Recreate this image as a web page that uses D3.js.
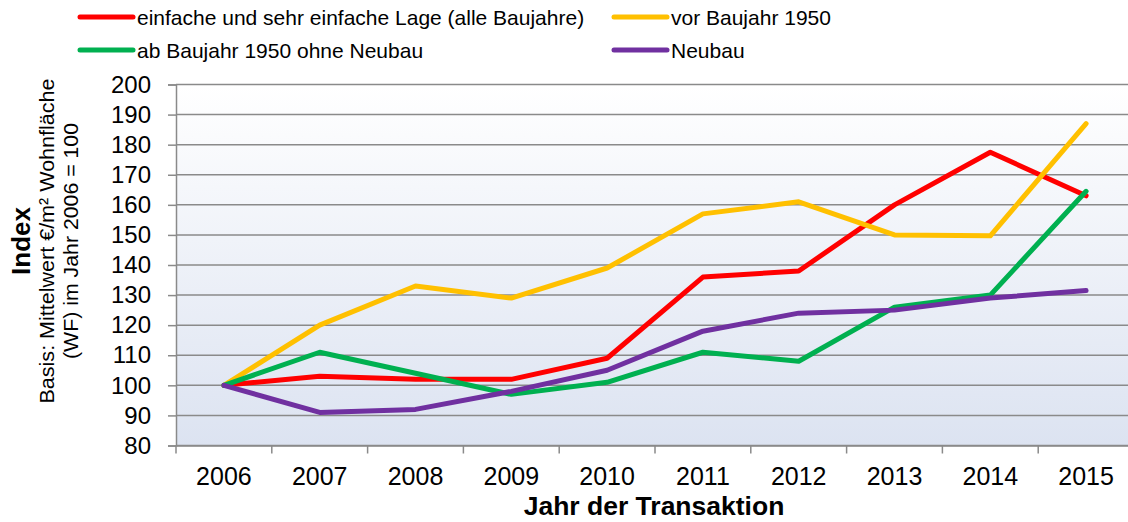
<!DOCTYPE html>
<html><head><meta charset="utf-8">
<script src="https://cdn.jsdelivr.net/npm/d3@7"></script>
<style>body{margin:0;background:#fff}svg{display:block;font-family:"Liberation Sans",Arial,sans-serif}</style>
</head><body><svg id="c" width="1128" height="522"></svg>
<script>
const years = ["2006","2007","2008","2009","2010","2011","2012","2013","2014","2015"];
const seriesNames = ["einfache und sehr einfache Lage (alle Baujahre)","vor Baujahr 1950","ab Baujahr 1950 ohne Neubau","Neubau"];
const einfache = [100,103,102,102,109,136,138,160,177.5,163];
const vor1950 = [100,120,133,129,139,157,161,150,149.7,187];
const ab1950 = [100,111,104,97,101,111,108,126,130,164.5];
const neubau = [100,91,92,98,105,118,124,125,129,131.5];
const yTicks = [80,90,100,110,120,130,140,150,160,170,180,190,200];
const colors = ["#ff0000","#ffc000","#00b050","#7030a0"];
const allSeries = [einfache, vor1950, ab1950, neubau];

const svg = d3.select("#c");
const x0 = 176, x1 = 1134, yTop = 84.5, yBot = 445.5;
const x = d3.scaleBand().domain(years).range([x0, x1]);
const y = d3.scaleLinear().domain([80,200]).range([yBot, yTop]);

const defs = svg.append("defs");
const g = defs.append("linearGradient").attr("id","bg").attr("x1",0).attr("y1",0).attr("x2",0).attr("y2",1);
g.append("stop").attr("offset","0%").attr("stop-color","#ffffff");
g.append("stop").attr("offset","100%").attr("stop-color","#dce3f1");

svg.append("rect").attr("x",x0).attr("y",yTop).attr("width",x1-x0).attr("height",yBot-yTop).attr("fill","url(#bg)");

// gridlines
svg.append("g").selectAll("line").data(yTicks).join("line")
  .attr("x1",x0).attr("x2",x1).attr("y1",d=>y(d)).attr("y2",d=>y(d))
  .attr("stroke","#8a8a8a").attr("stroke-width",1.5);

// y axis
const ya = svg.append("g").attr("transform",`translate(${x0},0)`)
  .call(d3.axisLeft(y).tickValues(yTicks).tickSize(8).tickPadding(17));
ya.select(".domain").attr("stroke","#8a8a8a").attr("stroke-width",1.5);
ya.selectAll(".tick line").attr("stroke","#8a8a8a").attr("stroke-width",1.5);
ya.selectAll("text").attr("font-size",24).attr("fill","#000").attr("font-family","Liberation Sans, Arial, sans-serif");

// x axis
const xa = svg.append("g").attr("transform",`translate(0,${yBot})`)
  .call(d3.axisBottom(x).tickSize(0).tickPadding(22));
xa.select(".domain").attr("stroke","#8a8a8a").attr("stroke-width",1.5);
xa.selectAll("text").attr("font-size",25).attr("fill","#000").attr("font-family","Liberation Sans, Arial, sans-serif");
// tick marks at category boundaries
const bounds = years.map(d=>x(d)).concat([x1]);
svg.append("g").selectAll("line").data(bounds).join("line")
  .attr("x1",d=>d).attr("x2",d=>d).attr("y1",yBot).attr("y2",yBot+8)
  .attr("stroke","#8a8a8a").attr("stroke-width",1.5);

// lines
const line = d3.line().x((d,i)=>x(years[i])+x.bandwidth()/2).y(d=>y(d));
allSeries.forEach((s,k)=>{
  svg.append("path").attr("d",line(s)).attr("fill","none").attr("stroke",colors[k])
    .attr("stroke-width",5).attr("stroke-linejoin","round").attr("stroke-linecap","round");
});

// axis titles
svg.append("text").attr("x",654).attr("y",515).attr("text-anchor","middle")
  .attr("font-size",26.5).attr("font-weight","bold").text("Jahr der Transaktion");
const yt = svg.append("g").attr("transform","translate(0,241) rotate(-90)");
yt.append("text").attr("x",0).attr("y",30).attr("text-anchor","middle").attr("font-size",26).attr("font-weight","bold").text("Index");
yt.append("text").attr("x",0).attr("y",54).attr("text-anchor","middle").attr("font-size",21)
  .attr("textLength",325).attr("lengthAdjust","spacingAndGlyphs").text("Basis: Mittelwert €/m² Wohnfläche");
yt.append("text").attr("x",0).attr("y",78).attr("text-anchor","middle").attr("font-size",21)
  .attr("textLength",236).attr("lengthAdjust","spacingAndGlyphs").text("(WF) im Jahr 2006 = 100");

// legend
const legPos = [[80,17],[614,17],[80,50],[614,50]];
seriesNames.forEach((n,k)=>{
  const [lx,ly] = legPos[k];
  svg.append("line").attr("x1",lx).attr("x2",lx+53).attr("y1",ly).attr("y2",ly)
    .attr("stroke",colors[k]).attr("stroke-width",5).attr("stroke-linecap","round");
  svg.append("text").attr("x",lx+57).attr("y",ly+8).attr("font-size",21).text(n);
});
</script></body></html>
